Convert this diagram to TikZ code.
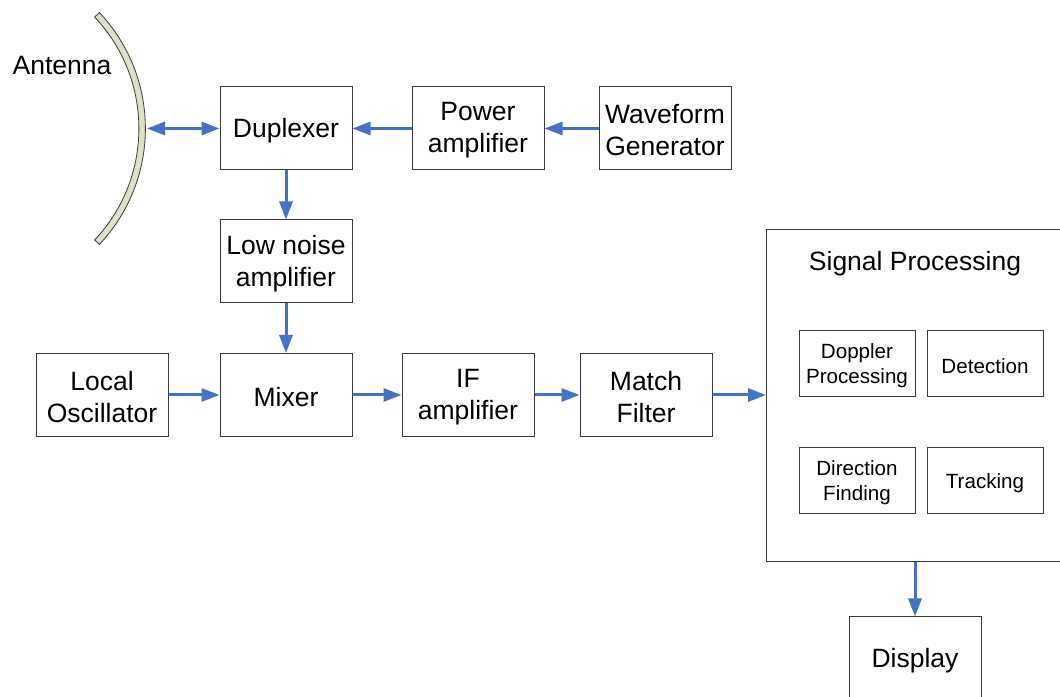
\documentclass[tikz,border=0pt]{standalone}
\usepackage{fontspec}
\setmainfont{Liberation Sans}
\usetikzlibrary{arrows.meta}
\definecolor{arrowblue}{RGB}{68,114,196}
\definecolor{boxline}{RGB}{60,60,60}
\definecolor{dishfill}{RGB}{221,224,200}
\tikzset{
  bigbox/.style={draw=boxline, line width=1pt, minimum width=132pt, minimum height=83pt, inner sep=0pt},
  smallbox/.style={draw=boxline, line width=1pt, minimum width=116pt, minimum height=66pt, inner sep=0pt},
  bigtext/.style={inner sep=0pt, align=center, font=\fontsize{26.5}{32}\selectfont},
  smalltext/.style={inner sep=0pt, align=center, font=\fontsize{20.6}{25}\selectfont},
  flow/.style={draw=arrowblue, line width=3pt, -{Triangle[length=18pt,width=13pt]}},
  bothflow/.style={draw=arrowblue, line width=3pt, {Triangle[length=18pt,width=13pt]}-{Triangle[length=18pt,width=13pt]}}
}
\newcommand{\bigblk}[3]{\node[bigbox] (#1) at (#2) {};\node[bigtext, yshift=-2pt] (#1-t) at (#1.center) {#3};}
\newcommand{\smallblk}[3]{\node[smallbox] (#1) at (#2) {};\node[smalltext, yshift=-2pt] (#1-t) at (#1.center) {#3};}
\begin{document}
\begin{tikzpicture}[x=1pt,y=1pt]
\useasboundingbox (0,0) rectangle (1060,696);
\clip (0,0) rectangle (1060,696);
\fill[white] (0,0) rectangle (1060,696);
% antenna dish
\coordinate (dc) at (-23.6,567.5);
\draw[draw=boxline, line width=0.8pt, fill=dishfill]
  ([shift={(dc)}]43.3:169) arc[start angle=43.3, end angle=-43.3, radius=169]
  -- ([shift={(dc)}]-43.3:162.5) arc[start angle=-43.3, end angle=43.3, radius=162.5] -- cycle;
\coordinate (ant) at (147,567.5);
\node[bigtext] (antlabel) at (62,630) {Antenna};
% boxes
\bigblk{dup}{286,567.5}{Duplexer}
\bigblk{pa}{478,567.5}{Power\\amplifier}
\bigblk{wg}{665,567.5}{Waveform\\Generator}
\bigblk{lna}{286,434.5}{Low noise\\amplifier}
\bigblk{lo}{102,301}{Local\\Oscillator}
\bigblk{mix}{286,301}{Mixer}
\bigblk{ifa}{468,301}{IF\\amplifier}
\bigblk{mf}{646,301}{Match\\Filter}
\node[draw=boxline, line width=1pt, minimum width=300pt, minimum height=332pt, inner sep=0pt, anchor=north west] (sp) at (766,467) {};
\node[bigtext] (sptitle) at (915,432) {Signal Processing};
\smallblk{dop}{857,332}{Doppler\\Processing}
\smallblk{det}{985,332}{Detection}
\smallblk{dirf}{857,215}{Direction\\Finding}
\smallblk{trk}{985,215}{Tracking}
\bigblk{disp}{915,37.5}{Display}
% connectors
\draw[bothflow] (ant) -- (dup.west);
\draw[flow] (pa.west) -- (dup.east);
\draw[flow] (wg.west) -- (pa.east);
\draw[flow] (dup.south) -- (lna.north);
\draw[flow] (lna.south) -- (mix.north);
\draw[flow] (lo.east) -- (mix.west);
\draw[flow] (mix.east) -- (ifa.west);
\draw[flow] (ifa.east) -- (mf.west);
\draw[flow] (mf.east) -- (mf.east -| sp.west);
\draw[flow] (disp.north |- sp.south) -- (disp.north);
\end{tikzpicture}
\end{document}
